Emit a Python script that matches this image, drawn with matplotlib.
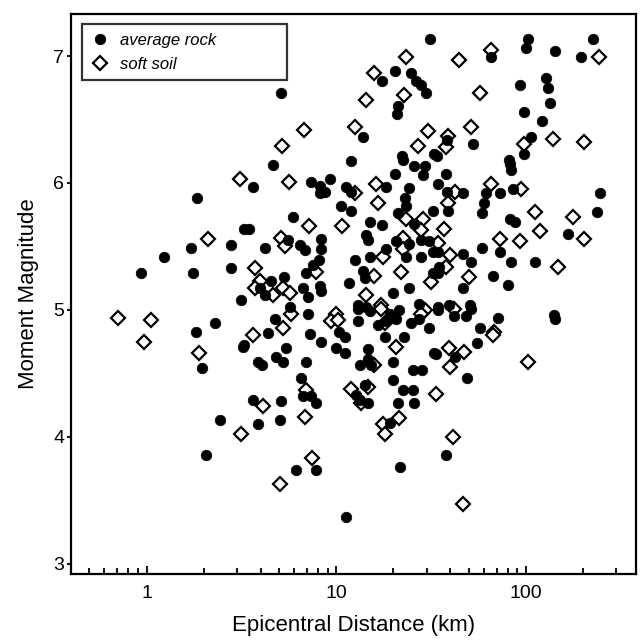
import matplotlib
matplotlib.use('Agg')
import matplotlib.pyplot as plt
from matplotlib.ticker import LogLocator, FixedLocator, NullFormatter

# Epicentral distance (km) and moment magnitude - average rock sites
rock_dist = [5.13, 31.2, 20.4, 17.4, 24.8, 26.4, 28.0, 29.8, 21.1, 20.8, 13.9, 32.9, 22.1, 12.0, 4.64,
             65.4, 103, 100, 143, 225, 196, 93, 128, 131, 134, 98, 121, 52.8, 38.4, 34.0, 106, 98, 81.7,
             1.85, 3.26, 1.71, 2.80, 1.24, 0.94, 1.76, 2.80, 3.16,
             1.82, 2.31, 1.96, 3.22, 2.43, 2.07,
             6.11, 7.78, 11.3, 21.7, 37.9,
             141, 143, 70.9, 57.5, 55.2, 42.3, 33.6, 48.7, 34.3, 42.0, 48.3, 51.3,
             82.7, 83.4, 37.9, 34.3, 85.7, 73.0, 61.6, 59.8, 58.4, 46.4, 38.4, 39.0, 82.7, 87.9, 245, 238,
             167, 58.7, 73.0, 83.4, 112, 34.3, 46.4, 51.3, 35.0, 34.3, 46.4, 66.7, 80.7, 39.5, 50.9, 34.3,
             3.64, 7.32, 8.17, 9.30, 8.68, 8.17, 11.2, 12.0, 10.6, 12.0, 18.3, 20.3, 22.4, 25.8, 29.2, 28.6,
             24.3, 22.9, 23.2, 5.91, 3.47, 15.0, 17.5, 21.1, 32.2, 25.8, 14.4, 14.7, 5.56, 6.41, 6.81, 8.34,
             8.34, 4.19, 20.7, 18.3, 24.3, 28.0, 31.0, 32.2, 23.4, 28.0, 15.0, 12.5, 8.10, 7.53, 6.95, 5.30,
             4.55, 3.95, 4.19, 6.67, 7.09, 8.17, 8.34, 5.68, 11.7, 13.8, 14.1, 24.3, 13.0, 14.4, 19.9, 27.4, 32.2,
             4.73, 7.09, 4.37, 3.25, 7.30, 8.34, 10.4, 11.1, 10.0, 11.1, 5.46, 4.79, 5.24, 3.87, 4.08, 6.95,
             6.54, 6.67, 7.39, 7.78, 13.0, 13.0, 15.0, 16.6, 18.3, 19.1, 20.7, 21.4, 24.8, 27.4, 31.0, 18.0,
             22.7, 32.9, 14.7, 14.7, 13.3, 15.3, 19.9, 25.3, 28.4, 19.9, 22.4, 25.3, 14.1, 12.7, 13.3, 14.7,
             21.1, 25.8, 19.1, 3.64, 5.13, 5.03, 3.87]
rock_mag = [6.71, 7.13, 6.88, 6.80, 6.87, 6.80, 6.77, 6.71, 6.61, 6.54, 6.36, 6.23, 6.21, 6.17, 6.14,
            6.99, 7.13, 7.06, 7.04, 7.13, 6.99, 6.77, 6.83, 6.75, 6.63, 6.56, 6.49, 6.31, 6.34, 6.21, 6.36, 6.23, 6.18,
            5.88, 5.64, 5.49, 5.51, 5.42, 5.29, 5.29, 5.33, 5.08,
            4.83, 4.90, 4.54, 4.71, 4.13, 3.86,
            3.74, 3.74, 3.37, 3.76, 3.86,
            4.96, 4.93, 4.94, 4.86, 4.74, 4.63, 4.65, 4.46, 5.00, 4.95, 4.95, 5.01,
            6.15, 6.10, 6.07, 5.99, 5.95, 5.92, 5.92, 5.84, 5.76, 5.92, 5.93, 5.78, 5.72, 5.69, 5.92, 5.77,
            5.60, 5.49, 5.46, 5.38, 5.38, 5.46, 5.44, 5.38, 5.34, 5.29, 5.17, 5.27, 5.20, 5.04, 5.04, 5.02,
            5.97, 6.01, 5.98, 6.03, 5.93, 5.92, 5.97, 5.93, 5.82, 5.78, 5.97, 6.07, 6.18, 6.13, 6.13, 6.06,
            5.96, 5.88, 5.82, 5.73, 5.64, 5.69, 5.67, 5.76, 5.78, 5.68, 5.59, 5.55, 5.55, 5.51, 5.47, 5.56,
            5.48, 5.49, 5.54, 5.48, 5.52, 5.55, 5.54, 5.46, 5.42, 5.42, 5.42, 5.39, 5.39, 5.35, 5.29, 5.26,
            5.23, 5.17, 5.12, 5.17, 5.10, 5.19, 5.15, 5.02, 5.21, 5.31, 5.25, 5.17, 5.04, 5.02, 5.13, 5.05, 5.29,
            4.93, 4.97, 4.82, 4.72, 4.81, 4.75, 4.83, 4.79, 4.70, 4.66, 4.70, 4.63, 4.59, 4.59, 4.57, 4.59,
            4.46, 4.32, 4.32, 4.27, 4.91, 5.01, 4.99, 4.88, 4.91, 4.97, 4.93, 5.00, 4.90, 4.93, 4.86, 4.79,
            4.79, 4.66, 4.69, 4.61, 4.57, 4.57, 4.59, 4.53, 4.53, 4.45, 4.37, 4.37, 4.41, 4.33, 4.29, 4.27,
            4.27, 4.27, 4.11, 4.29, 4.28, 4.13, 4.10]

# soft soil sites
soil_dist = [23.4, 15.9, 22.7, 14.4, 6.75, 5.17, 12.5, 30.6, 26.9,
             44.6, 65.4, 244, 57.3, 51.3, 39.0, 37.9, 97.1, 139, 203,
             3.10, 2.11,
             0.704, 1.05, 0.97, 1.89, 3.16,
             7.48, 5.03, 46.4,
             68.1, 66.7, 39.5, 47.4, 40.0, 103, 33.6, 41.4, 42.0,
             65.4, 94.1, 42.3, 39.0, 111, 119, 178, 203, 37.2, 73.0, 93.0, 147, 34.3, 40.0, 37.9, 49.9,
             5.63, 12.6, 16.2, 16.6, 7.17, 10.7, 23.4, 28.6, 28.0, 5.13, 5.34, 22.4, 22.4, 17.6, 7.85, 3.72,
             3.95, 3.72, 4.64, 5.24, 5.68, 15.9, 22.0, 14.4, 17.3, 31.6, 29.2, 10.0,
             5.24, 5.80, 3.64, 9.41, 10.2, 17.3, 18.1, 28.0, 20.7, 15.9, 12.0, 14.7, 13.5, 21.5, 17.6, 18.0,
             4.11, 6.81, 6.89]
soil_mag = [6.99, 6.87, 6.69, 6.65, 6.42, 6.29, 6.44, 6.41, 6.29,
            6.97, 7.05, 6.99, 6.71, 6.44, 6.37, 6.28, 6.31, 6.35, 6.32,
            6.03, 5.56,
            4.94, 4.92, 4.75, 4.66, 4.02,
            3.83, 3.63, 3.47,
            4.83, 4.80, 4.70, 4.67, 4.55, 4.59, 4.34, 4.00, 5.01,
            5.99, 5.95, 5.93, 5.84, 5.77, 5.62, 5.73, 5.56, 5.64, 5.56, 5.54, 5.34, 5.53, 5.43, 5.34, 5.26,
            6.01, 5.92, 5.99, 5.84, 5.66, 5.66, 5.72, 5.72, 5.63, 5.57, 5.50, 5.57, 5.48, 5.42, 5.30, 5.33,
            5.23, 5.17, 5.12, 5.17, 5.13, 5.27, 5.30, 5.12, 5.04, 5.22, 5.00, 4.97,
            4.86, 4.97, 4.80, 4.91, 4.92, 5.01, 4.90, 4.97, 4.71, 4.57, 4.38, 4.39, 4.27, 4.15, 4.10, 4.02,
            4.24, 4.16, 4.37]

x_ticks = [1, 10, 100]
x_ticklabels = ['1', '10', '100']
y_ticks = [3, 4, 5, 6, 7]

plt.rcParams['font.family'] = ['Liberation Sans', 'DejaVu Sans']

fig = plt.figure(figsize=(6.42, 6.41), dpi=100)
ax = fig.add_axes([0.1106, 0.1045, 0.880, 0.8735])

ax.plot(soil_dist, soil_mag, linestyle='none', marker='D', markersize=7.0,
        markerfacecolor='white', markeredgecolor='black', markeredgewidth=1.6,
        label='soft soil', zorder=2)
ax.plot(rock_dist, rock_mag, linestyle='none', marker='o', markersize=7.6,
        markerfacecolor='black', markeredgecolor='black', markeredgewidth=0.5,
        label='average rock', zorder=3)

ax.set_xscale('log')
ax.set_xlim(0.4, 380)
ax.set_ylim(2.92, 7.33)

ax.xaxis.set_major_locator(FixedLocator(x_ticks))
ax.set_xticklabels(x_ticklabels)
ax.xaxis.set_minor_locator(LogLocator(base=10, subs=[2, 3, 4, 5, 6, 7, 8, 9]))
ax.xaxis.set_minor_formatter(NullFormatter())
ax.set_yticks(y_ticks)

for s in ax.spines.values():
    s.set_linewidth(1.6)

ax.tick_params(axis='x', which='major', direction='in', length=6, width=1.3,
               labelsize=14, pad=8)
ax.tick_params(axis='x', which='minor', direction='in', length=4, width=1.3)
ax.tick_params(axis='y', which='major', direction='out', length=3, width=1.3,
               labelsize=14, pad=2)

ax.set_xlabel('Epicentral Distance (km)', fontsize=16, labelpad=9)
ax.set_ylabel('Moment Magnitude', fontsize=16, labelpad=10)

# legend with rock first, stretched over a fixed box
h, l = ax.get_legend_handles_labels()
leg = ax.legend(h[::-1], l[::-1], loc='upper left', bbox_to_anchor=(0.019, 0.982, 0.363, 0.0),
                mode='expand', borderaxespad=0, frameon=True, fancybox=False,
                prop={'style': 'italic', 'size': 12}, handletextpad=0.6, handlelength=1.2,
                labelspacing=0.55, borderpad=0.5)
leg.get_frame().set_edgecolor('black')
leg.get_frame().set_linewidth(1.6)
leg.set_zorder(5)

plt.savefig('out.png', dpi=100)
